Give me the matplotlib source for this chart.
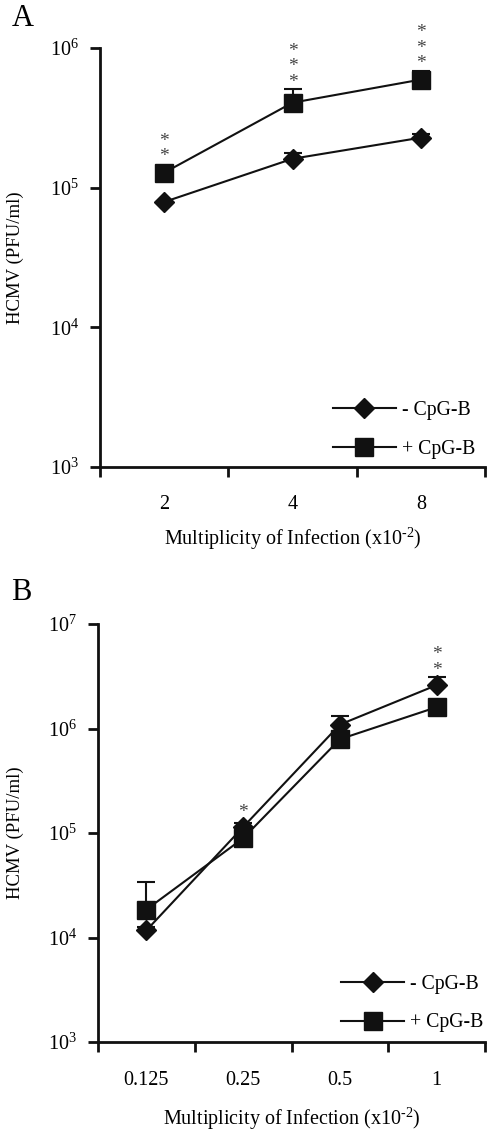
import matplotlib
matplotlib.use('Agg')
import matplotlib.pyplot as plt
import numpy as np

plt.rcParams['font.family'] = ['Liberation Serif', 'DejaVu Serif']
plt.rcParams['mathtext.fontset'] = 'custom'
plt.rcParams['mathtext.rm'] = 'Liberation Serif'
plt.rcParams['mathtext.it'] = 'Liberation Serif:italic'

# Panel A data (MOI x10^-2)
moi_a = ['2', '4', '8']
minus_a = [7.9e4, 1.61e5, 2.28e5]
minus_a_err = [0, 1.7e4, 1.6e4]
plus_a = [1.28e5, 4.06e5, 5.94e5]
plus_a_err = [0.6e4, 1.0e5, 0.85e5]
stars_a = [2, 3, 3]

# Panel B data
moi_b = ['0.125', '0.25', '0.5', '1']
minus_b = [1.17e4, 1.14e5, 1.09e6, 2.6e6]
minus_b_err = [0.1e4, 0.1e5, 0.24e6, 0.5e6]
plus_b = [1.85e4, 8.9e4, 7.9e5, 1.6e6]
plus_b_err = [1.55e4, 0.5e4, 0, 0.2e6]
stars_b = [0, 1, 0, 2]

labels = ['- CpG-B', '+ CpG-B']
ink = '#111111'


def draw_panel(ax, cats, minus, minus_err, plus, plus_err, stars, ymax, leg_anchor,
               tick_pad, xlabel_pad):
    x = np.arange(len(cats)) + 0.5
    handles = []
    for y, err, mk, ms in [(minus, minus_err, 'D', 10), (plus, plus_err, 's', 13)]:
        eb = ax.errorbar(x, y, yerr=[np.zeros(len(y)), err], fmt='none',
                         ecolor=ink, elinewidth=1.5, capsize=6.5, capthick=1.5, zorder=2)
        eb[1][0].set_visible(False)  # only the upper cap
        h, = ax.plot(x, y, color=ink, lw=1.5, marker=mk, ms=ms, mfc=ink, mec=ink, zorder=3)
        handles.append(h)

    ax.set_yscale('log')
    ax.set_ylim(1e3, ymax)
    ax.set_xlim(0, len(cats))
    decades = range(3, int(np.log10(ymax)) + 1)
    ax.set_yticks([10.0 ** e for e in decades])
    ax.set_yticklabels([r'$\mathregular{10^{%d}}$' % e for e in decades])
    ax.yaxis.set_minor_locator(matplotlib.ticker.NullLocator())
    ax.set_xticks(np.arange(len(cats) + 1))
    ax.set_xticklabels([])
    ax.set_xticks(x, minor=True)
    ax.set_xticklabels(cats, minor=True)
    ax.tick_params(axis='both', which='major', direction='out', length=7.2, width=2,
                   labelsize=14.5, pad=8, color=ink)
    ax.tick_params(axis='x', which='minor', length=0, labelsize=14.5, pad=tick_pad)
    for s in ['top', 'right']:
        ax.spines[s].set_visible(False)
    for s in ['left', 'bottom']:
        ax.spines[s].set_linewidth(2)
        ax.spines[s].set_color(ink)

    ax.set_ylabel('HCMV (PFU/ml)', fontsize=13.5)
    ax.set_xlabel('Multiplicity of Infection (x10$^{\\text{-}2}$)', fontsize=14.5,
                  labelpad=xlabel_pad)
    ax.legend(handles, labels, loc='center left', bbox_to_anchor=leg_anchor, frameon=False,
              borderpad=0, borderaxespad=0, handlelength=3.2, handletextpad=0.3,
              labelspacing=1.0, numpoints=1, fontsize=14.2)

    # significance stars, stacked above the highest mark of each group
    fig = ax.figure
    fig.canvas.draw()
    to_px = ax.transData.transform
    for xi, ym, em, yp, ep, n in zip(x, minus, minus_err, plus, plus_err, stars):
        if n == 0:
            continue
        tops = [to_px((xi, ym + em))[1], to_px((xi, yp + ep))[1],
                to_px((xi, ym))[1] + 7, to_px((xi, yp))[1] + 9]
        base = max(tops)
        for k in range(n):
            ax.annotate('*', (to_px((xi, ym))[0], base), xycoords='figure pixels',
                        xytext=(0, -1 + k * 11), textcoords='offset points',
                        ha='center', va='bottom', fontsize=14, color='#444444')


fig = plt.figure(figsize=(4.87, 11.32), dpi=100)
ax_a = fig.add_axes([100 / 487, 1 - 467 / 1132, 385 / 487, 419 / 1132])
ax_b = fig.add_axes([98 / 487, 1 - 1042 / 1132, 387 / 487, 418 / 1132])

draw_panel(ax_a, moi_a, minus_a, minus_a_err, plus_a, plus_a_err, stars_a, 1e6,
           (0.605, 0.088), 20, 9)
draw_panel(ax_b, moi_b, minus_b, minus_b_err, plus_b, plus_b_err, stars_b, 1e7,
           (0.628, 0.092), 20.6, 12)

ax_a.yaxis.set_label_coords(-76 / 385, 0.5)
ax_b.yaxis.set_label_coords(-74 / 387, 0.5)

fig.text(12 / 487, 1 - 18 / 1132, 'A', fontsize=22, va='center', ha='left')
fig.text(11 / 487, 1 - 593 / 1132, 'B', fontsize=22, va='center', ha='left')

fig.savefig('out.png', dpi=100)
